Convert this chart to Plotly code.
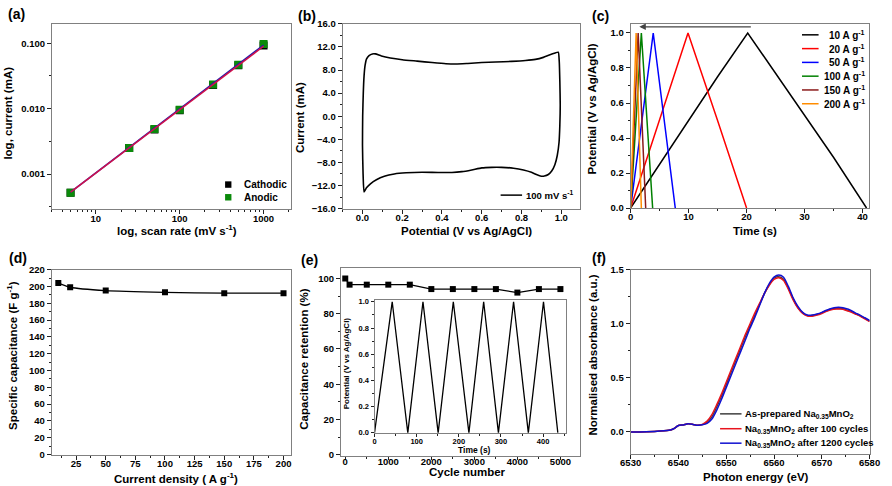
import plotly.graph_objects as go

W, H = 892, 486
FONT = "Liberation Sans"

# ---------------- data ----------------
# (a) log current vs log scan rate
scan_rate = [5, 25, 50, 100, 250, 500, 1000]
cathodic_current = [0.00052, 0.0025, 0.0048, 0.0095, 0.023, 0.046, 0.092]
anodic_current = [0.00052, 0.0025, 0.0049, 0.0096, 0.0235, 0.047, 0.097]
fit_rate = [5, 1000]
cathodic_fit = [0.00053, 0.090]
anodic_fit = [0.00053, 0.094]

# (b) cyclic voltammogram 100 mV/s
cv_potential = [0.008, 0.003, 0.000, 0.001, 0.004, 0.008, 0.013, 0.020, 0.033, 0.050, 0.065, 0.095,
                0.14, 0.20, 0.275, 0.35, 0.42, 0.47, 0.53, 0.60, 0.67, 0.75, 0.82, 0.87, 0.91, 0.94,
                0.965, 0.985, 0.990, 0.993, 0.995, 0.993, 0.989, 0.980, 0.968, 0.952, 0.935, 0.915,
                0.895, 0.875, 0.85, 0.81, 0.76, 0.70, 0.65, 0.60, 0.55, 0.50, 0.45, 0.38, 0.30, 0.22,
                0.16, 0.11, 0.07, 0.04, 0.02, 0.008]
cv_current = [-13.1, -10.0, -5.0, 0.0, 4.0, 7.0, 8.8, 9.9, 10.5, 10.8, 10.8, 10.45,
              10.1, 9.8, 9.55, 9.3, 9.1, 9.05, 9.15, 9.3, 9.4, 9.5, 9.65, 9.85, 10.2, 10.6,
              10.9, 11.1, 9.5, 6.0, 2.0, -1.5, -4.5, -6.8, -8.4, -9.5, -10.1, -10.35,
              -10.35, -10.1, -9.7, -9.3, -9.0, -8.85, -8.85, -8.95, -9.3, -9.6, -9.75, -9.75, -9.7, -9.8,
              -10.0, -10.4, -11.0, -11.7, -12.4, -13.1]

# (c) galvanostatic charge-discharge
gcd_labels = ["10 A g<sup>-1</sup>", "20 A g<sup>-1</sup>", "50 A g<sup>-1</sup>",
              "100 A g<sup>-1</sup>", "150 A g<sup>-1</sup>", "200 A g<sup>-1</sup>"]
gcd_colors = ["#000000", "#FF0000", "#0000FF", "#008000", "#8B1A1A", "#FF8C00"]
gcd_time = [
    [0, 5, 10, 15, 20.2, 25, 30, 35, 40.7],
    [0, 5, 9.9, 15, 20.0],
    [0, 3.9, 7.7],
    [0, 1.85, 3.8],
    [0, 1.3, 2.6],
    [0, 0.95, 1.85],
]
gcd_potential = [
    [0.0, 0.25, 0.5, 0.75, 1.0, 0.77, 0.53, 0.29, 0.0],
    [0.0, 0.5, 1.0, 0.5, 0.0],
    [0.0, 1.0, 0.0],
    [0.0, 1.0, 0.0],
    [0.0, 1.0, 0.0],
    [0.0, 1.0, 0.0],
]

# (d) specific capacitance vs current density
current_density = [10, 20, 50, 100, 150, 200]
specific_capacitance = [204, 199, 195, 193, 192, 192]

# (e) capacitance retention vs cycle number
cycle_number = [0, 100, 500, 1000, 1500, 2000, 2500, 3000, 3500, 4000, 4500, 5000]
retention = [100, 96.5, 96.5, 96.5, 96.5, 94, 94, 94, 94, 92, 94, 94]
inset_time = [0, 42, 79, 115, 151, 187, 224, 259, 294, 330, 365, 401, 435]
inset_potential = [0, 1, 0, 1, 0, 1, 0, 1, 0, 1, 0, 1, 0]

# (f) XANES
energy = [6530, 6535, 6538, 6539, 6540, 6541, 6542, 6543, 6544, 6545, 6546, 6547, 6548, 6549, 6550,
          6551, 6552, 6553, 6554, 6555, 6556, 6557, 6558, 6559, 6560, 6561, 6562, 6563, 6564, 6565,
          6566, 6567, 6568, 6569, 6570, 6571, 6572, 6573, 6574, 6575, 6576, 6577, 6578, 6579, 6580]
abs_asprep = [0.0, 0.005, 0.015, 0.03, 0.06, 0.065, 0.075, 0.07, 0.062, 0.068, 0.09, 0.14, 0.23, 0.33, 0.44,
              0.55, 0.66, 0.77, 0.88, 0.98, 1.08, 1.18, 1.28, 1.36, 1.42, 1.435, 1.41, 1.33, 1.23, 1.15,
              1.10, 1.075, 1.075, 1.085, 1.10, 1.12, 1.135, 1.14, 1.14, 1.13, 1.115, 1.095, 1.075, 1.05, 1.025]
abs_100 = [0.0, 0.005, 0.015, 0.03, 0.06, 0.065, 0.075, 0.07, 0.062, 0.07, 0.10, 0.16, 0.25, 0.35, 0.46,
           0.57, 0.68, 0.79, 0.90, 1.00, 1.10, 1.19, 1.28, 1.355, 1.41, 1.425, 1.40, 1.32, 1.22, 1.145,
           1.095, 1.07, 1.07, 1.08, 1.095, 1.115, 1.13, 1.135, 1.135, 1.125, 1.11, 1.09, 1.07, 1.045, 1.02]
abs_1200 = [0.0, 0.005, 0.015, 0.03, 0.06, 0.065, 0.075, 0.07, 0.062, 0.066, 0.08, 0.12, 0.20, 0.30, 0.41,
            0.52, 0.63, 0.74, 0.85, 0.96, 1.06, 1.17, 1.28, 1.37, 1.43, 1.45, 1.43, 1.345, 1.24, 1.16,
            1.105, 1.08, 1.08, 1.09, 1.105, 1.125, 1.14, 1.15, 1.15, 1.14, 1.125, 1.10, 1.08, 1.055, 1.03]
xanes_labels = ["As-prepared Na<sub>0.35</sub>MnO<sub>2</sub>",
                "Na<sub>0.35</sub>MnO<sub>2</sub> after 100 cycles",
                "Na<sub>0.35</sub>MnO<sub>2</sub> after 1200 cycles"]
xanes_colors = ["#404040", "#E8141E", "#1010D0"]


# ---------------- helpers ----------------
def px(x):
    return x / W


def py(y):
    return 1 - y / H


def dx(l, r):
    return [px(l), px(r)]


def dy(t, b):
    return [py(b), py(t)]


tickfont = dict(family=FONT, size=9.5, color="black", weight="bold")


def axis(domain, rng, anchor, dtick=None, minor=None, fmt=None, typ="linear", size=None, ticklen=4,
         ticks="outside", standoff=0):
    d = dict(domain=domain, range=rng, anchor=anchor, type=typ, showline=True, linecolor="#808080",
             linewidth=1, mirror=True, ticks=ticks, ticklen=ticklen, tickwidth=1, tickcolor="#222",
             showgrid=False, zeroline=False, ticklabelstandoff=standoff,
             tickfont=dict(tickfont) if size is None else dict(tickfont, size=size))
    if dtick is not None:
        d["dtick"] = dtick
        d["tick0"] = 0
    if fmt:
        d["tickformat"] = fmt
    if minor is not None:
        d["minor"] = dict(ticks=ticks, ticklen=2, tickcolor="#222", tickwidth=1, showgrid=False, **minor)
    return d


fig = go.Figure()

# (a)
fig.add_trace(go.Scatter(x=scan_rate, y=cathodic_current, mode="markers",
                         marker=dict(symbol="square", size=8, color="black"), xaxis="x", yaxis="y"))
fig.add_trace(go.Scatter(x=scan_rate, y=anodic_current, mode="markers",
                         marker=dict(symbol="square", size=8, color="#0A8A0A"), xaxis="x", yaxis="y"))
fig.add_trace(go.Scatter(x=fit_rate, y=anodic_fit, mode="lines", line=dict(color="#1a1aB0", width=1.5),
                         xaxis="x", yaxis="y"))
fig.add_trace(go.Scatter(x=fit_rate, y=cathodic_fit, mode="lines", line=dict(color="#D0104A", width=1.5),
                         xaxis="x", yaxis="y"))

# (b)
fig.add_trace(go.Scatter(x=cv_potential, y=cv_current, mode="lines",
                         line=dict(color="black", width=1.6, shape="spline", smoothing=0.5),
                         xaxis="x2", yaxis="y2"))

# (c)
for t, v, c in zip(gcd_time, gcd_potential, gcd_colors):
    fig.add_trace(go.Scatter(x=t, y=v, mode="lines", line=dict(color=c, width=1.5), xaxis="x3", yaxis="y3"))

# (d)
fig.add_trace(go.Scatter(x=current_density, y=specific_capacitance, mode="lines+markers",
                         line=dict(color="black", width=1.3, shape="spline", smoothing=0.6),
                         marker=dict(symbol="square", size=6, color="black"), xaxis="x4", yaxis="y4"))

# (e)
fig.add_trace(go.Scatter(x=cycle_number, y=retention, mode="lines+markers",
                         line=dict(color="black", width=1.3),
                         marker=dict(symbol="square", size=6, color="black"), xaxis="x5", yaxis="y5"))

# (f)
for yv, c in zip([abs_asprep, abs_100, abs_1200], xanes_colors):
    fig.add_trace(go.Scatter(x=energy, y=yv, mode="lines", line=dict(color=c, width=1.5, shape="spline", smoothing=0.6),
                             xaxis="x6", yaxis="y6"))

# inset (e)
fig.add_trace(go.Scatter(x=inset_time, y=inset_potential, mode="lines", line=dict(color="black", width=1.3),
                         xaxis="x7", yaxis="y7"))

# ---------------- axes ----------------
log_minor_x = [v * m for m in (1, 10, 100, 1000) for v in range(2, 10)]
log_minor_y = [3.16e-4, 3.16e-3, 3.16e-2]

lay = dict(
    xaxis=dict(axis(dx(42, 287), [0.477, 3.326], "y", typ="log", standoff=-4),
               tickvals=[10, 100, 1000], ticktext=["10", "100", "1000"],
               minor=dict(ticks="outside", ticklen=2, tickcolor="#222", tickmode="array", tickvals=log_minor_x)),
    yaxis=dict(axis(dy(18, 208), [-3.537, -0.70], "x", typ="log"),
               tickvals=[0.001, 0.01, 0.1], ticktext=["0.001", "0.010", "0.100"],
               minor=dict(ticks="outside", ticklen=2, tickcolor="#222", tickmode="array", tickvals=log_minor_y)),
    xaxis2=axis(dx(340, 583.3), [-0.1, 1.094], "y2", dtick=0.2, minor=dict(dtick=0.1), fmt=".1f", standoff=-4),
    yaxis2=axis(dy(18.3, 207.3), [-16, 16], "x2", dtick=4, minor=dict(dtick=2), fmt=".1f"),
    xaxis3=axis(dx(635.3, 879.3), [0, 41.06], "y3", dtick=10, minor=dict(dtick=5), standoff=-4),
    yaxis3=axis(dy(18.3, 206.7), [0, 1.052], "x3", dtick=0.2, minor=dict(dtick=0.1), fmt=".1f"),
    xaxis4=axis(dx(41.7, 286.7), [4.4, 206], "y4", dtick=25, minor=dict(dtick=12.5), standoff=-4),
    yaxis4=axis(dy(269.7, 459), [0, 220], "x4", dtick=20, minor=dict(dtick=10)),
    xaxis5=axis(dx(338.3, 583.3), [-100, 5453], "y5", dtick=1000, minor=dict(dtick=500), ticklen=3, standoff=-6),
    yaxis5=axis(dy(268, 460.3), [-0.7, 106], "x5", dtick=20, minor=dict(dtick=10)),
    xaxis6=axis(dx(635.3, 880.3), [6530, 6580], "y6", dtick=10, minor=dict(dtick=5), standoff=-4),
    yaxis6=axis(dy(269.7, 458), [-0.2, 1.5], "x6", dtick=0.5, minor=dict(dtick=0.25), fmt=".1f"),
    xaxis7=axis(dx(372.7, 569.3), [0, 455], "y7", dtick=100, minor=dict(dtick=50), size=7.5, ticklen=3,
                standoff=-2),
    yaxis7=axis(dy(301.3, 436.7), [0, 1.01], "x7", dtick=0.2, minor=dict(dtick=0.1), fmt=".1f", size=7.5, ticklen=3),
)
lay["xaxis"]["tick0"] = None
lay["yaxis"]["tick0"] = None

# ---------------- text ----------------
ann = []


def text(x, y, s, size=11.5, angle=0, xanchor="center", color="black"):
    ann.append(dict(x=px(x), y=py(y), xref="paper", yref="paper", text=s, showarrow=False,
                    textangle=angle, xanchor=xanchor, yanchor="middle",
                    font=dict(family=FONT, size=size, color=color, weight="bold")))


# panel labels
for lbl, x, y in [("(a)", 6, 8), ("(b)", 303, 10), ("(c)", 604, 10),
                  ("(d)", 7, 258), ("(e)", 306, 259.5), ("(f)", 603, 258)]:
    text(x, y, lbl, size=14)

# axis titles (rotated titles are offset for plotly's rotated-box anchoring)
RX = -8
text(170, 229, "log, scan rate (mV s<sup>-1</sup>)")
text(4 + RX, 110, "log, current (mA)", angle=-90)
text(467, 230, "Potential (V vs Ag/AgCl)")
text(305 + RX, 114, "Current (mA)", angle=-90)
text(763, 230, "Time (s)")
text(603.7 + RX, 106, "Potential (V vs Ag/AgCl)", angle=-90)
text(169, 483, "Current density ( A g<sup>-1</sup>)")
text(9 + RX, 357, "Specific capacitance (F g<sup>-1</sup>)", angle=-90)
text(468, 477, "Cycle number")
text(308.3 + RX, 361, "Capacitance retention (%)", angle=-90)
text(764, 482, "Photon energy (eV)")
text(604.3 + RX, 357, "Normalised absorbance (a.u.)", angle=-90)
text(475, 454, "Time (s)", size=8.5)
text(350 + RX + 2, 366, "Potential (V vs Ag/AgCl)", size=8, angle=-90)

shapes = []

# legend (a)
for (lbl, col, y) in [("Cathodic", "black", 182.7), ("Anodic", "#0A8A0A", 195.7)]:
    shapes.append(dict(type="rect", xref="paper", yref="paper", x0=px(219.5), x1=px(226), y0=py(y + 3.3),
                       y1=py(y - 3.3), fillcolor=col, line=dict(width=0)))
    text(237, y, lbl, size=10, xanchor="left")

# legend (b)
shapes.append(dict(type="line", xref="paper", yref="paper", x0=px(502), x1=px(524), y0=py(193.5), y1=py(193.5),
                   line=dict(color="black", width=1.5)))
text(526, 193.5, "100 mV s<sup>-1</sup>", size=9.5, xanchor="left")

# legend (c)
for i, (lbl, col) in enumerate(zip(gcd_labels, gcd_colors)):
    y = 29.5 + 14.1 * i
    shapes.append(dict(type="line", xref="paper", yref="paper", x0=px(811), x1=px(828), y0=py(y), y1=py(y),
                       line=dict(color=col, width=1.5)))
    text(878, y, lbl, size=10, xanchor="right")

# legend (f)
for i, (lbl, col) in enumerate(zip(xanes_labels, xanes_colors)):
    y = [417.3, 432.5, 447.3][i]
    shapes.append(dict(type="line", xref="paper", yref="paper", x0=px(727), x1=px(749), y0=py(y), y1=py(y),
                       line=dict(color=col, width=1.5)))
    text(750.5, y, lbl, size=9.5, xanchor="left")

# arrow (c)
ann.append(dict(x=1.5, y=1.035, ax=21, ay=1.035, xref="x3", yref="y3", axref="x3", ayref="y3",
                text="", showarrow=True, arrowhead=2, arrowsize=1, arrowwidth=1.3, arrowcolor="#444"))

fig.update_layout(**lay)
fig.update_layout(width=W, height=H, margin=dict(l=0, r=0, t=0, b=0), showlegend=False,
                  plot_bgcolor="white", paper_bgcolor="white", annotations=ann, shapes=shapes,
                  font=dict(family=FONT, color="black"))

fig.write_html("out.html")
